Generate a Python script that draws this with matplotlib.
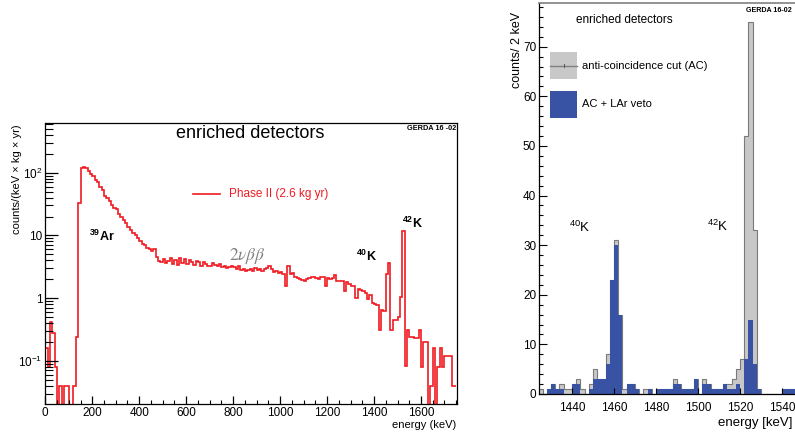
import numpy as np
import matplotlib
matplotlib.use("Agg")
from matplotlib import pyplot as plt
from matplotlib.lines import Line2D
from matplotlib.patches import Rectangle
from matplotlib.ticker import FixedLocator, LogLocator, MultipleLocator, NullFormatter

plt.rcParams["font.family"] = ["Liberation Sans", "DejaVu Sans"]
plt.rcParams["mathtext.fontset"] = "custom"
plt.rcParams["mathtext.rm"] = "Liberation Sans"
plt.rcParams["mathtext.it"] = "Liberation Sans:italic"
plt.rcParams["mathtext.bf"] = "Liberation Sans:bold"
plt.rcParams["xtick.direction"] = "in"
plt.rcParams["ytick.direction"] = "in"

W, H = 795, 437
RED = "#f01a22"
BLUE = "#3953a4"
GREY_FILL = "#c8c8c8"
GREY_LINE = "#7a7a7a"

# left panel: Phase II spectrum, 10 keV bins, counts/(keV kg yr)
PHASE2_BIN_WIDTH = 10
PHASE2_RATE = [
    0.16, 0.079, 0.42, 0.28, 0.078, 0, 0.039, 0, 0.039, 0.039,
    0, 0, 0.039, 0.24, 33, 121, 123, 118, 108, 97,
    88, 77, 70, 60, 52, 43, 40, 36, 30, 27.5,
    26, 22, 19.5, 17.5, 15.5, 13.5, 12, 11, 10, 9,
    8, 7.4, 7, 6.4, 6, 5.6, 6.1, 4.6, 3.9, 3.7,
    4.2, 3.6, 3.9, 4.4, 3.5, 4.1, 3.4, 4.3, 3.6, 4.2,
    3.5, 4.0, 3.8, 3.4, 3.9, 3.7, 3.3, 3.7, 3.5, 3.2,
    3.3, 3.6, 3.4, 3.2, 3.5, 3.1, 3.2, 3.0, 3.1, 3.3,
    3.1, 2.9, 3.2, 2.8, 2.9, 2.7, 2.8, 2.9, 2.7, 3.0,
    2.8, 2.9, 2.7, 2.9, 3.0, 3.3, 2.9, 2.6, 2.7, 2.5,
    2.6, 2.4, 1.55, 3.2, 2.4, 2.5, 2.2, 2.1, 2.0, 1.95,
    1.9, 2.05, 2.1, 2.15, 2.2, 2.1, 2.0, 2.15, 2.15, 1.55,
    2.1, 2.0, 2.1, 2.3, 1.9, 1.85, 1.85, 1.3, 1.8, 1.65,
    1.55, 1.55, 1.0, 1.4, 1.35, 1.3, 1.2, 0.95, 1.1, 0.83,
    0.8, 0.78, 0.31, 0.65, 0.62, 2.4, 3.6, 0.31, 0.45, 0.44,
    0.5, 1.05, 11.9, 0.081, 0.31, 0.24, 0.24, 0.23, 0.23, 0.31,
    0.08, 0.2, 0.2, 0, 0.039, 0.16, 0, 0.08, 0.16, 0.08,
    0.117, 0.117, 0.117, 0.039, 0.039,
]
PHASE2_TICKS = [0, 200, 400, 600, 800, 1000, 1200, 1400, 1600]
PHASE2_YTICKS = [0.1, 1, 10, 100]
PHASE2_YLABELS = [r"$10^{-1}$", "1", "10", r"$10^{2}$"]

# right panel: 40K / 42K region, 2 keV bins starting at 1424 keV
PEAK_BIN_START = 1424
PEAK_BIN_WIDTH = 2
AC_COUNTS = [
    1, 0, 1, 2, 1, 2, 1, 1, 2, 3,
    1, 0, 2, 5, 3, 3, 8, 23, 31, 16,
    1, 2, 2, 1, 0, 1, 1, 0, 1, 1,
    1, 1, 3, 2, 1, 1, 1, 3, 0, 3,
    2, 1, 1, 1, 2, 2, 3, 5, 7, 52,
    75, 33, 1, 0, 0, 0, 0, 0, 1, 1,
    1,
]
LAR_COUNTS = [
    0, 0, 1, 2, 1, 1, 0, 0, 2, 2,
    0, 0, 1, 3, 3, 3, 6, 23, 30, 16,
    0, 2, 2, 1, 0, 0, 1, 0, 1, 1,
    1, 1, 2, 2, 1, 1, 1, 3, 0, 2,
    2, 1, 1, 1, 2, 1, 1, 2, 0, 7,
    15, 6, 1, 0, 0, 0, 0, 0, 1, 1,
    1,
]
PEAK_TICKS = [1440, 1460, 1480, 1500, 1520, 1540]


def fx(px):
    return px / W


def fy(py):
    return 1 - py / H


fig = plt.figure(figsize=(W / 100, H / 100), dpi=100)

# ---------------- left panel ----------------
ax1 = fig.add_axes([fx(45.3), fy(404), 411.4 / W, 280.7 / H])
rate = np.array(PHASE2_RATE, dtype=float)
edges1 = PHASE2_BIN_WIDTH * np.arange(len(rate) + 1)
ax1.stairs(np.where(rate > 0, rate, 1e-4), edges1, baseline=None,
           color=RED, lw=1.2)
ax1.set_yscale("log")
ax1.set_xlim(0, 1752)
ax1.set_ylim(0.0204, 614)
ax1.xaxis.set_major_locator(FixedLocator(PHASE2_TICKS))
ax1.xaxis.set_minor_locator(MultipleLocator(50))
ax1.set_yticks(PHASE2_YTICKS, PHASE2_YLABELS)
ax1.yaxis.set_minor_locator(LogLocator(base=10, subs=np.arange(2, 10)))
ax1.yaxis.set_minor_formatter(NullFormatter())
ax1.tick_params(axis="x", which="major", length=5.5, width=0.9, labelsize=8.5, pad=2)
ax1.tick_params(axis="x", which="minor", length=3, width=0.8)
ax1.tick_params(axis="y", which="major", length=9, width=0.9, labelsize=8.5, pad=2)
ax1.tick_params(axis="y", which="minor", length=5.5, width=0.8)
for s in ax1.spines.values():
    s.set_linewidth(0.9)

fig.text(fx(250), fy(134), "enriched detectors", fontsize=13, ha="center", va="center")
fig.text(fx(432), fy(128), "GERDA 16 -02", fontsize=5.3, fontweight="bold",
         ha="center", va="center")
fig.add_artist(Line2D([fx(193), fx(220)], [fy(194.5), fy(194.5)], color=RED, lw=1.2))
fig.text(fx(229), fy(194.5), "Phase II (2.6 kg yr)", fontsize=8.5, color=RED,
         ha="left", va="center")
fig.text(fx(89), fy(236), r"$^{\mathbf{39}}$Ar", fontsize=9, fontweight="bold",
         ha="left", va="center")
fig.text(fx(247), fy(256), r"$2\nu\beta\beta$", fontsize=12.5, color="#808080",
         ha="center", va="center", math_fontfamily="stix")
fig.text(fx(356), fy(256), r"$^{\mathbf{40}}$K", fontsize=9, fontweight="bold",
         ha="left", va="center")
fig.text(fx(402), fy(223), r"$^{\mathbf{42}}$K", fontsize=9, fontweight="bold",
         ha="left", va="center")
fig.text(fx(456), fy(425), "energy (keV)", fontsize=8, ha="right", va="center")
fig.text(fx(17), fy(124), "counts/(keV × kg × yr)", fontsize=8, rotation=90,
         ha="center", va="top")

# ---------------- right panel ----------------
ax2 = fig.add_axes([fx(539), fy(394), 264 / W, 391 / H])
ac = np.array(AC_COUNTS, dtype=float)
lar = np.array(LAR_COUNTS, dtype=float)
edges2 = PEAK_BIN_START + PEAK_BIN_WIDTH * np.arange(len(ac) + 1)
ax2.stairs(ac, edges2, fill=True, facecolor=GREY_FILL, edgecolor="none")
ax2.stairs(ac, edges2, baseline=None, color=GREY_LINE, lw=0.8)
ax2.stairs(lar, edges2, fill=True, facecolor=BLUE, edgecolor="none")
ax2.set_xlim(1424.3, 1550)
ax2.set_ylim(0, 78.8)
ax2.xaxis.set_major_locator(FixedLocator(PEAK_TICKS))
ax2.xaxis.set_minor_locator(MultipleLocator(5))
ax2.yaxis.set_major_locator(MultipleLocator(10))
ax2.yaxis.set_minor_locator(MultipleLocator(2))
ax2.tick_params(axis="x", which="major", length=4, width=0.8, labelsize=8.5, pad=6)
ax2.tick_params(axis="x", which="minor", length=0)
ax2.tick_params(axis="y", which="major", length=5.5, width=0.8, labelsize=8.5, pad=2)
ax2.tick_params(axis="y", which="minor", length=3, width=0.8)
ax2.spines["right"].set_visible(False)
ax2.spines["top"].set_color("#808080")
ax2.spines["top"].set_linewidth(1.2)
for side in ("left", "bottom"):
    ax2.spines[side].set_linewidth(0.9)

fig.text(fx(576), fy(20), "enriched detectors", fontsize=8.5, ha="left", va="center")
fig.text(fx(769), fy(10), "GERDA 16-02", fontsize=5.1, fontweight="bold",
         ha="center", va="center")
fig.add_artist(Rectangle((fx(550), fy(79)), 27 / W, 27 / H, transform=fig.transFigure,
                         facecolor=GREY_FILL, edgecolor="none"))
fig.add_artist(Line2D([fx(550), fx(577)], [fy(65.5), fy(65.5)], color="#808080", lw=1))
fig.add_artist(Line2D([fx(563.5), fx(563.5)], [fy(64), fy(67)], color="#606060", lw=0.8))
fig.text(fx(582), fy(66), "anti-coincidence cut (AC)", fontsize=8, ha="left", va="center")
fig.add_artist(Rectangle((fx(550), fy(118)), 27 / W, 27 / H, transform=fig.transFigure,
                         facecolor=BLUE, edgecolor="none"))
fig.text(fx(582), fy(104), "AC + LAr veto", fontsize=8, ha="left", va="center")
fig.text(fx(569), fy(227), r"$^{40}$K", fontsize=9.5, ha="left", va="center")
fig.text(fx(707), fy(226), r"$^{42}$K", fontsize=9.5, ha="left", va="center")
fig.text(fx(517), fy(12), "counts/ 2 keV", fontsize=9, rotation=90, ha="center", va="top")
fig.text(fx(792), fy(423), "energy [keV]", fontsize=9.5, ha="right", va="center")

fig.savefig("out.png", dpi=100)
